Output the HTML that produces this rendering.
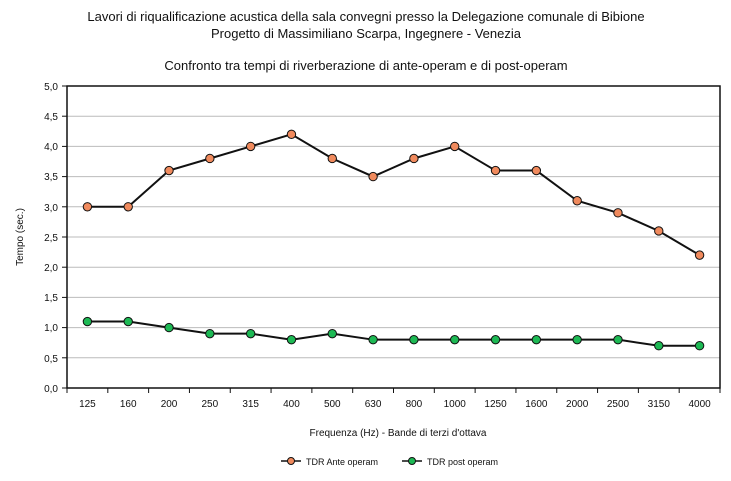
<!DOCTYPE html>
<html><head><meta charset="utf-8"><style>
body{margin:0;background:#fff;}
svg text{font-family:"Liberation Sans",sans-serif;fill:#111;}
</style></head><body>
<svg width="731" height="476" xmlns="http://www.w3.org/2000/svg">
<text x="366" y="21" font-size="13" text-anchor="middle">Lavori di riqualificazione acustica della sala convegni presso la Delegazione comunale di Bibione</text>
<text x="366" y="38" font-size="13" text-anchor="middle">Progetto di Massimiliano Scarpa, Ingegnere - Venezia</text>
<text x="366" y="70" font-size="13" text-anchor="middle">Confronto tra tempi di riverberazione di ante-operam e di post-operam</text>
<g stroke="#bbb" stroke-width="1">
<line x1="67" x2="720" y1="116.2" y2="116.2"/><line x1="67" x2="720" y1="146.4" y2="146.4"/>
<line x1="67" x2="720" y1="176.6" y2="176.6"/><line x1="67" x2="720" y1="206.8" y2="206.8"/>
<line x1="67" x2="720" y1="237" y2="237"/><line x1="67" x2="720" y1="267.2" y2="267.2"/>
<line x1="67" x2="720" y1="297.4" y2="297.4"/><line x1="67" x2="720" y1="327.6" y2="327.6"/>
<line x1="67" x2="720" y1="357.8" y2="357.8"/>
</g>
<rect x="67" y="86" width="653" height="302" fill="none" stroke="#111" stroke-width="1.5"/>
<g id="yl" font-size="10" text-anchor="end">
<text x="58" y="90">5,0</text><text x="58" y="120">4,5</text><text x="58" y="150">4,0</text><text x="58" y="180">3,5</text><text x="58" y="211">3,0</text><text x="58" y="241">2,5</text><text x="58" y="271">2,0</text><text x="58" y="301">1,5</text><text x="58" y="331">1,0</text><text x="58" y="362">0,5</text><text x="58" y="392">0,0</text>
</g>
<g stroke="#111" stroke-width="1">
<line x1="62" x2="67" y1="86" y2="86"/><line x1="62" x2="67" y1="116.2" y2="116.2"/><line x1="62" x2="67" y1="146.4" y2="146.4"/><line x1="62" x2="67" y1="176.6" y2="176.6"/><line x1="62" x2="67" y1="206.8" y2="206.8"/><line x1="62" x2="67" y1="237" y2="237"/><line x1="62" x2="67" y1="267.2" y2="267.2"/><line x1="62" x2="67" y1="297.4" y2="297.4"/><line x1="62" x2="67" y1="327.6" y2="327.6"/><line x1="62" x2="67" y1="357.8" y2="357.8"/><line x1="62" x2="67" y1="388" y2="388"/>
</g>
<text transform="translate(23,237) rotate(-90)" font-size="10" text-anchor="middle">Tempo (sec.)</text>
<g id="x"></g>
<text x="398" y="436" font-size="10" text-anchor="middle">Frequenza (Hz)    -    Bande di terzi d'ottava</text>
<line x1="281" x2="301" y1="461" y2="461" stroke="#111" stroke-width="1.5"/><circle cx="291" cy="461" r="3.5" fill="#f08a5d" stroke="#111"/>
<text x="306" y="465" font-size="9">TDR Ante operam</text>
<line x1="402" x2="422" y1="461" y2="461" stroke="#111" stroke-width="1.5"/><circle cx="412" cy="461" r="3.5" fill="#1db954" stroke="#111"/>
<text x="427" y="465" font-size="9">TDR post operam</text>
<g id="s"></g>
</svg>
<script>
const L=["125","160","200","250","315","400","500","630","800","1000","1250","1600","2000","2500","3150","4000"];
const A=[3,3,3.6,3.8,4,4.2,3.8,3.5,3.8,4,3.6,3.6,3.1,2.9,2.6,2.2];
const B=[1.1,1.1,1,0.9,0.9,0.8,0.9,0.8,0.8,0.8,0.8,0.8,0.8,0.8,0.7,0.7];
const w=653/16,X=i=>67+w*(i+0.5),Y=v=>388-v*60.4;
let g="",s="";
for(let i=0;i<=16;i++)g+=`<line x1="${67+w*i}" x2="${67+w*i}" y1="388" y2="393" stroke="#111"/>`;
L.forEach((l,i)=>g+=`<text x="${X(i)}" y="407" font-size="10" text-anchor="middle">${l}</text>`);
document.getElementById("x").innerHTML=g;
[[A,"#f08a5d"],[B,"#1db954"]].forEach(([d,c])=>{
s+=`<polyline fill="none" stroke="#111" stroke-width="2" points="${d.map((v,i)=>X(i)+","+Y(v)).join(" ")}"/>`;
d.forEach((v,i)=>s+=`<circle cx="${X(i)}" cy="${Y(v)}" r="4.2" fill="${c}" stroke="#111" stroke-width="1"/>`);
});
document.getElementById("s").innerHTML=s;
</script>
</body></html>
